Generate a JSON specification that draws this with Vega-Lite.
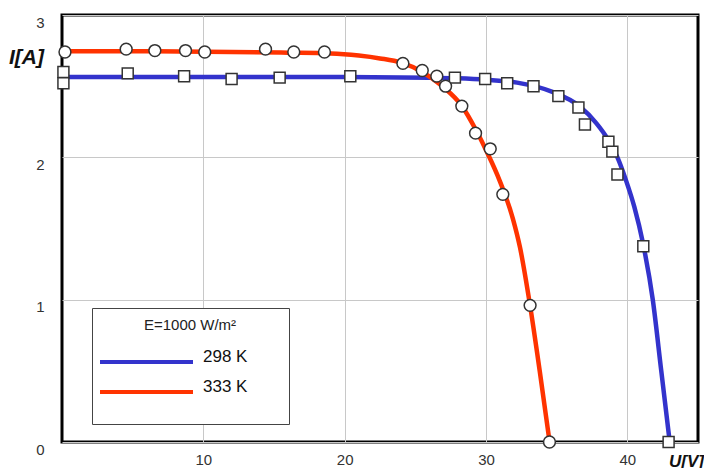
{
  "$schema": "https://vega.github.io/schema/vega-lite/v6.json",
  "width": 636,
  "height": 427,
  "autosize": {"type": "none"},
  "padding": {"left": 62, "top": 15, "right": 6, "bottom": 26},
  "background": "white",
  "config": {
    "view": {"stroke": "#000", "strokeWidth": 3},
    "font": "Liberation Sans"
  },
  "layer": [
    {
      "data": {
        "values": [
          {"U": 0, "I": 2.565, "series": "298 K"},
          {"U": 10, "I": 2.565, "series": "298 K"},
          {"U": 20, "I": 2.565, "series": "298 K"},
          {"U": 26, "I": 2.56, "series": "298 K"},
          {"U": 28, "I": 2.555, "series": "298 K"},
          {"U": 30, "I": 2.545, "series": "298 K"},
          {"U": 32.2, "I": 2.525, "series": "298 K"},
          {"U": 34.7, "I": 2.46, "series": "298 K"},
          {"U": 36.6, "I": 2.36, "series": "298 K"},
          {"U": 37.8, "I": 2.24, "series": "298 K"},
          {"U": 38.6, "I": 2.13, "series": "298 K"},
          {"U": 39.3, "I": 2.0, "series": "298 K"},
          {"U": 39.9, "I": 1.84, "series": "298 K"},
          {"U": 40.5, "I": 1.65, "series": "298 K"},
          {"U": 41.1, "I": 1.4, "series": "298 K"},
          {"U": 41.8, "I": 1.0, "series": "298 K"},
          {"U": 42.4, "I": 0.5, "series": "298 K"},
          {"U": 43.0, "I": 0, "series": "298 K"},
          {"U": 0, "I": 2.745, "series": "333 K"},
          {"U": 6, "I": 2.745, "series": "333 K"},
          {"U": 12, "I": 2.74, "series": "333 K"},
          {"U": 16, "I": 2.735, "series": "333 K"},
          {"U": 19, "I": 2.73, "series": "333 K"},
          {"U": 21, "I": 2.715, "series": "333 K"},
          {"U": 22.5, "I": 2.695, "series": "333 K"},
          {"U": 24, "I": 2.665, "series": "333 K"},
          {"U": 25.5, "I": 2.6, "series": "333 K"},
          {"U": 26.9, "I": 2.5, "series": "333 K"},
          {"U": 28.3, "I": 2.36, "series": "333 K"},
          {"U": 29.3, "I": 2.19, "series": "333 K"},
          {"U": 30.1, "I": 2.03, "series": "333 K"},
          {"U": 30.95, "I": 1.84, "series": "333 K"},
          {"U": 31.9, "I": 1.57, "series": "333 K"},
          {"U": 32.4, "I": 1.37, "series": "333 K"},
          {"U": 33.1, "I": 0.97, "series": "333 K"},
          {"U": 33.8, "I": 0.5, "series": "333 K"},
          {"U": 34.5, "I": 0, "series": "333 K"}
        ]
      },
      "mark": {"type": "line", "interpolate": "monotone", "strokeWidth": 4.5},
      "encoding": {
        "x": {
          "field": "U", "type": "quantitative",
          "scale": {"domain": [0, 45], "nice": false},
          "axis": {
            "values": [10, 20, 30, 40], "grid": true, "gridColor": "#c8c8c8", "gridWidth": 1,
            "domain": false, "ticks": false, "format": "d",
            "labelFontSize": 15, "labelColor": "#333", "labelPadding": 10,
            "title": "U[V]", "titleX": 624, "titleY": 19,
            "titleFontSize": 17, "titleFontStyle": "italic", "titleFontWeight": "bold",
            "titleAlign": "center", "titleBaseline": "middle", "titleColor": "#111"
          }
        },
        "y": {
          "field": "I", "type": "quantitative",
          "scale": {"domain": [0, 3], "nice": false},
          "axis": {
            "values": [0, 1, 2, 3], "grid": true, "gridColor": "#c8c8c8", "gridWidth": 1,
            "domain": false, "ticks": false, "format": "d",
            "labelFontSize": 15, "labelColor": "#333", "labelPadding": 18, "labelBaseline": "top",
            "title": "I[A]", "titleAngle": 0, "titleX": -36, "titleY": 42,
            "titleFontSize": 21, "titleFontStyle": "italic", "titleFontWeight": "bold",
            "titleAlign": "center", "titleBaseline": "middle", "titleColor": "#111"
          }
        },
        "color": {
          "field": "series", "type": "nominal",
          "scale": {"domain": ["298 K", "333 K"], "range": ["#3333cc", "#ff3300"]},
          "legend": {
            "orient": "none", "legendX": 30, "legendY": 293,
            "title": "E=1000 W/m²", "titleFontSize": 15, "titleFontWeight": "normal",
            "titleColor": "#222", "titleAnchor": "middle", "titlePadding": 7,
            "symbolType": "M-2.325,0H2.325", "symbolSize": 1600, "symbolStrokeWidth": 4, "symbolOffset": 22.5,
            "labelFontSize": 17, "labelColor": "#111", "labelOffset": 34.5, "labelBaseline": "alphabetic",
            "labelExpr": "datum.label == '333 K' ? [datum.label + '\u00a0\u00a0\u00a0\u00a0\u2800', '\u2800'] : datum.label + '\u00a0\u00a0\u00a0\u00a0\u2800'",
            "rowPadding": -16, "padding": 10,
            "strokeColor": "#444", "fillColor": "white"
          }
        }
      }
    },
    {
      "data": {
        "values": [
          {"U": 0.1, "I": 2.6},
          {"U": 0.1, "I": 2.52},
          {"U": 4.65, "I": 2.59},
          {"U": 8.64, "I": 2.57},
          {"U": 12.0, "I": 2.55},
          {"U": 15.4, "I": 2.56},
          {"U": 20.4, "I": 2.57},
          {"U": 27.8, "I": 2.56},
          {"U": 29.94, "I": 2.55},
          {"U": 31.5, "I": 2.52},
          {"U": 33.36, "I": 2.5},
          {"U": 35.12, "I": 2.43},
          {"U": 36.54, "I": 2.35},
          {"U": 37.0, "I": 2.23},
          {"U": 38.66, "I": 2.11},
          {"U": 38.94, "I": 2.04},
          {"U": 39.3, "I": 1.88},
          {"U": 41.13, "I": 1.375},
          {"U": 42.92, "I": 0}
        ]
      },
      "mark": {"type": "point", "shape": "square", "filled": true, "fill": "white", "stroke": "#333", "strokeWidth": 1.5, "size": 120, "opacity": 1},
      "encoding": {
        "x": {"field": "U", "type": "quantitative"},
        "y": {"field": "I", "type": "quantitative"}
      }
    },
    {
      "data": {
        "values": [
          {"U": 0.21, "I": 2.74},
          {"U": 4.54, "I": 2.76},
          {"U": 6.57, "I": 2.75},
          {"U": 8.74, "I": 2.75},
          {"U": 10.1, "I": 2.74},
          {"U": 14.4, "I": 2.76},
          {"U": 16.4, "I": 2.74},
          {"U": 18.57, "I": 2.74},
          {"U": 24.12, "I": 2.66},
          {"U": 25.49, "I": 2.61},
          {"U": 26.52, "I": 2.57},
          {"U": 27.14, "I": 2.5},
          {"U": 28.29, "I": 2.36},
          {"U": 29.26, "I": 2.17},
          {"U": 30.3, "I": 2.06},
          {"U": 31.19, "I": 1.74},
          {"U": 33.12, "I": 0.96},
          {"U": 34.49, "I": 0}
        ]
      },
      "mark": {"type": "point", "shape": "circle", "filled": true, "fill": "white", "stroke": "#333", "strokeWidth": 1.5, "size": 140, "opacity": 1},
      "encoding": {
        "x": {"field": "U", "type": "quantitative"},
        "y": {"field": "I", "type": "quantitative"}
      }
    }
  ]
}
